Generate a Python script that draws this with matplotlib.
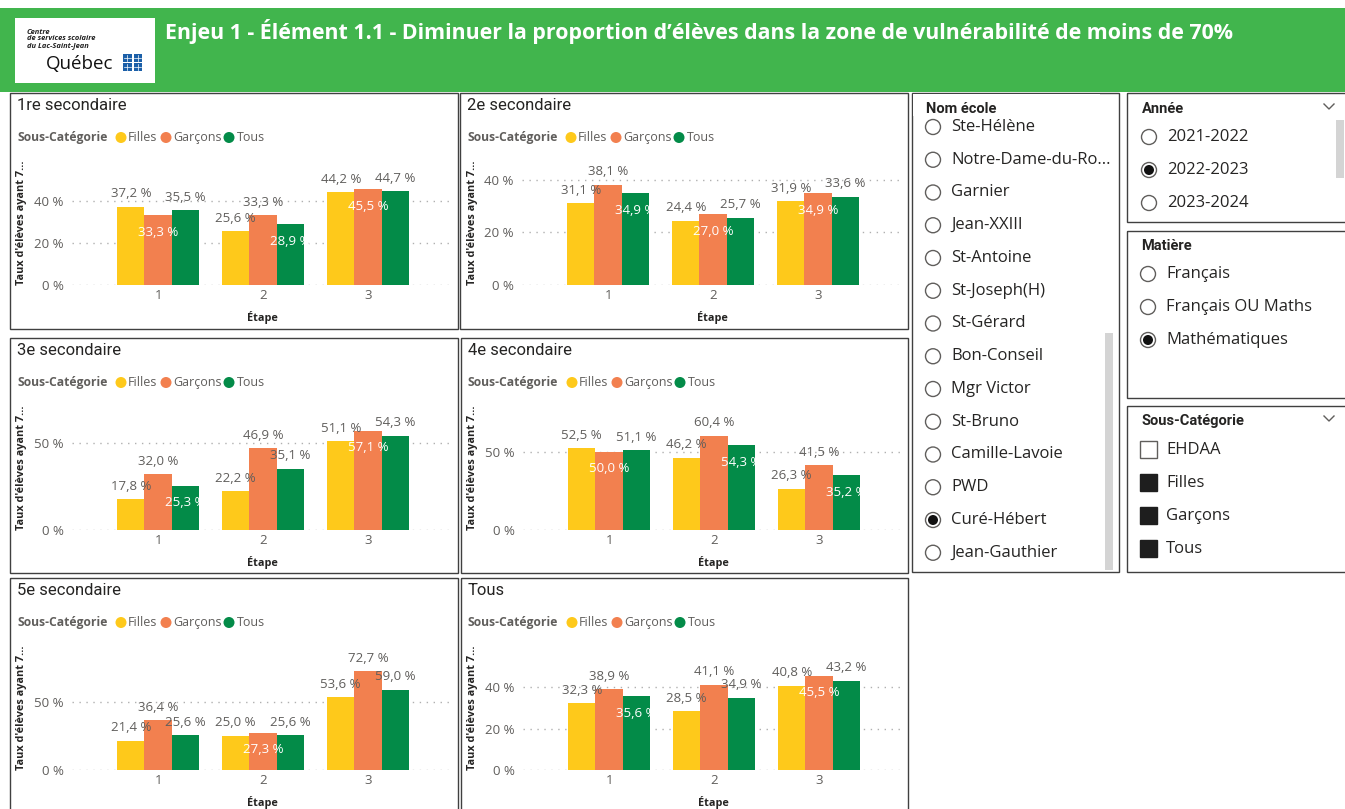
import matplotlib
matplotlib.use("Agg")
import matplotlib.pyplot as plt
from matplotlib.patches import Rectangle, Circle
from matplotlib.transforms import Affine2D

# ---------------- data ----------------
categories = [1, 2, 3]
series_names = ["Filles", "Garçons", "Tous"]

titles = ["1re secondaire", "2e secondaire", "3e secondaire",
          "4e secondaire", "5e secondaire", "Tous"]

filles_1 = [37.2, 25.6, 44.2]
garcons_1 = [33.3, 33.3, 45.5]
tous_1 = [35.5, 28.9, 44.7]

filles_2 = [31.1, 24.4, 31.9]
garcons_2 = [38.1, 27.0, 34.9]
tous_2 = [34.9, 25.7, 33.6]

filles_3 = [17.8, 22.2, 51.1]
garcons_3 = [32.0, 46.9, 57.1]
tous_3 = [25.3, 35.1, 54.3]

filles_4 = [52.5, 46.2, 26.3]
garcons_4 = [50.0, 60.4, 41.5]
tous_4 = [51.1, 54.3, 35.2]

filles_5 = [21.4, 25.0, 53.6]
garcons_5 = [36.4, 27.3, 72.7]
tous_5 = [25.6, 25.6, 59.0]

filles_t = [32.3, 28.5, 40.8]
garcons_t = [38.9, 41.1, 45.5]
tous_t = [35.6, 34.9, 43.2]

yticks_list = [[0, 20, 40], [0, 20, 40], [0, 50], [0, 50], [0, 50], [0, 20, 40]]

ecoles = ["Ste-Hélène", "Notre-Dame-du-Ro...", "Garnier", "Jean-XXIII", "St-Antoine",
          "St-Joseph(H)", "St-Gérard", "Bon-Conseil", "Mgr Victor", "St-Bruno",
          "Camille-Lavoie", "PWD", "Curé-Hébert", "Jean-Gauthier"]
ecole_sel = "Curé-Hébert"
annees = ["2021-2022", "2022-2023", "2023-2024"]
annee_sel = "2022-2023"
matieres = ["Français", "Français OU Maths", "Mathématiques"]
matiere_sel = "Mathématiques"
souscats = ["EHDAA", "Filles", "Garçons", "Tous"]
souscat_sel = ["Filles", "Garçons", "Tous"]

title_text = "Enjeu 1 - Élément 1.1 - Diminuer la proportion d’élèves dans la zone de vulnérabilité de moins de 70%"

# ---------------- style / layout ----------------
COLORS = ["#FEC91B", "#F2804F", "#038B48"]
GREEN = "#41B54D"
GREY = "#605E5C"
DARK = "#252423"
BORDER = "#404040"
SEGOE = ["Open Sans", "DejaVu Sans"]
DIN = ["Roboto", "DejaVu Sans"]

# panel boxes (left, top, right, bottom) in pixels
panel_boxes = [(10, 93, 458, 329), (460, 93, 908, 329),
               (10, 338, 458, 573), (461, 338, 908, 573),
               (10, 578, 458, 830), (461, 578, 908, 830)]
# pixels per percent for each panel
scales = [2.10, 2.625, 1.74, 1.56, 1.36, 2.07]
# labels drawn inside bars (series index, category index)
inside = [[(1, 0), (2, 1), (1, 2)],
          [(2, 0), (1, 1), (1, 2)],
          [(2, 0), (1, 2)],
          [(1, 0), (2, 1), (2, 2)],
          [(1, 1)],
          [(2, 0), (1, 2)]]

W, H = 1345, 809
fig = plt.figure(figsize=(W / 100, H / 100), dpi=100)
P = Affine2D().scale(1 / W, -1 / H).translate(0, 1) + fig.transFigure


def ftext(x, y, s, **kw):
    kw.setdefault("transform", P)
    return fig.text(x, y, s, **kw)


def frect(x0, y0, x1, y1, **kw):
    r = Rectangle((x0, y0), x1 - x0, y1 - y0, transform=P, **kw)
    fig.add_artist(r)
    return r


# header
frect(0, 8, W, 92, facecolor=GREEN, edgecolor="none")
frect(15, 18, 155, 83, facecolor="white", edgecolor="none")
for i, line in enumerate(["Centre", "de services scolaire", "du Lac-Saint-Jean"]):
    ftext(27, 32 + i * 7, line, fontsize=5.4, fontweight="bold", fontstyle="italic",
          color="#222222", va="center", family=SEGOE)
ftext(46, 64, "Québec", fontsize=13.5, color="#111111", va="center", family=SEGOE)
for ix in range(2):
    for iy in range(2):
        x0 = 123 + ix * 10.5
        y0 = 54 + iy * 9
        frect(x0, y0, x0 + 8.5, y0 + 7.5, facecolor="#1B5FA8", edgecolor="none")
        fig.add_artist(plt.Line2D([x0 + 4.25, x0 + 4.25], [y0 + 0.8, y0 + 6.7],
                                  color="white", lw=0.5, transform=P))
        fig.add_artist(plt.Line2D([x0 + 0.8, x0 + 7.7], [y0 + 3.75, y0 + 3.75],
                                  color="white", lw=0.5, transform=P))

t = ftext(165, 32, title_text, fontsize=14, fontweight="bold", color="white",
          va="center", family=SEGOE)
fig.canvas.draw()
r = fig.canvas.get_renderer()
w = t.get_window_extent(r).width
t.set_fontsize(14 * 1075 / w)

data_sets = [(filles_1, garcons_1, tous_1), (filles_2, garcons_2, tous_2),
             (filles_3, garcons_3, tous_3), (filles_4, garcons_4, tous_4),
             (filles_5, garcons_5, tous_5), (filles_t, garcons_t, tous_t)]


def fmt(v):
    return f"{v:.1f}".replace(".", ",") + " %"


BW = 0.26
for k, (title, box, scale, ins, yt, vals) in enumerate(
        zip(titles, panel_boxes, scales, inside, yticks_list, data_sets)):
    L, T, R, B = box
    frect(L, T, R, B, facecolor="none", edgecolor=BORDER, lw=1.0)
    ftext(L + 7, T + 12.5, title, fontsize=12, color=DARK, va="center", family=DIN)
    ly = T + 44.5
    ftext(L + 7, ly, "Sous-Catégorie", fontsize=8.7, fontweight="bold", color=GREY,
          va="center", family=SEGOE)
    for cx, tx, name, col in zip([L + 111, L + 156, L + 219], [L + 118, L + 163, L + 227],
                                 series_names, COLORS):
        fig.add_artist(Circle((cx, ly), 5.5, transform=P, facecolor=col, edgecolor="none"))
        ftext(tx, ly, name, fontsize=9, color=GREY, va="center", family=SEGOE)

    zero = T + 192
    ph = 128
    ax = fig.add_axes([(L + 62) / W, 1 - zero / H, 381 / W, ph / H])
    ax.set_xlim(0.18, 3.81)
    ax.set_ylim(0, ph / scale)
    for j, (vs, col) in enumerate(zip(vals, COLORS)):
        xs = [c + (j - 1) * BW for c in categories]
        ax.bar(xs, vs, width=BW, color=col, zorder=3)
        for ci, (x, v) in enumerate(zip(xs, vs)):
            if (j, ci) in ins:
                ax.annotate(fmt(v), (x, v), xytext=(0, -17), textcoords="offset pixels",
                            ha="center", va="center", color="white", fontsize=9.5,
                            family=SEGOE, zorder=5, annotation_clip=False)
            else:
                ax.annotate(fmt(v), (x, v), xytext=(0, 13), textcoords="offset pixels",
                            ha="center", va="center", color=GREY, fontsize=9.5,
                            family=SEGOE, zorder=5, annotation_clip=False)
    ax.set_yticks(yt)
    ax.set_yticklabels([f"{v} %" for v in yt], fontsize=9.5, color=GREY, family=SEGOE)
    ax.set_xticks(categories)
    ax.set_xticklabels([str(c) for c in categories], fontsize=9.5, color=GREY, family=SEGOE)
    ax.tick_params(length=0)
    ax.tick_params(axis="y", pad=6)
    ax.tick_params(axis="x", pad=3)
    ax.yaxis.grid(True, linestyle=(0, (1, 4)), color="#B0B0B0", lw=1, zorder=0)
    ax.set_axisbelow(True)
    for s in ax.spines.values():
        s.set_visible(False)
    ax.patch.set_alpha(0)
    ftext(L + 12, zero - ph / 2 + 2, "Taux d'élèves ayant 7…", rotation=90, fontsize=7.8,
          fontweight="bold", color=DARK, ha="center", va="center", family=SEGOE)
    ftext(L + 62 + 190.5, T + 225, "Étape", fontsize=7.8, fontweight="bold", color=DARK,
          ha="center", va="center", family=SEGOE)


# ---------------- slicers ----------------
def radio(cx, cy, selected):
    fig.add_artist(Circle((cx, cy), 7.5, transform=P, facecolor="white",
                          edgecolor=GREY, lw=1.0))
    if selected:
        fig.add_artist(Circle((cx, cy), 5, transform=P, facecolor="#111111",
                              edgecolor="none"))


def chevron(cx, cy):
    fig.add_artist(plt.Line2D([cx - 5, cx, cx + 5], [cy - 3, cy + 2, cy - 3],
                              color=GREY, lw=1.0, transform=P))


ITEM_FS = 12
HEAD_FS = 10.5

# Nom école
frect(912, 93, 1119, 572, facecolor="none", edgecolor=BORDER, lw=1.0)
frect(1105, 333, 1113, 570, facecolor="#D4D4D4", edgecolor="none")
for i, name in enumerate(ecoles):
    y = 127 + i * 32.75
    radio(933, y, name == ecole_sel)
    ftext(951, y, name, fontsize=ITEM_FS, color=DARK, va="center", family=SEGOE)
frect(913, 94, 1100, 116, facecolor="white", edgecolor="none")
ftext(926, 109, "Nom école", fontsize=HEAD_FS, fontweight="bold", color=DARK,
      va="center", family=DIN)

# Année
frect(1127, 93, 1360, 222, facecolor="none", edgecolor=BORDER, lw=1.0)
ftext(1142, 109, "Année", fontsize=HEAD_FS, fontweight="bold", color=DARK,
      va="center", family=DIN)
chevron(1329, 107)
frect(1336, 120, 1344, 178, facecolor="#D4D4D4", edgecolor="none")
for i, a in enumerate(annees):
    y = 137 + i * 33
    radio(1149, y, a == annee_sel)
    ftext(1167, y, a, fontsize=ITEM_FS, color=DARK, va="center", family=SEGOE)

# Matière
frect(1127, 231, 1360, 398, facecolor="none", edgecolor=BORDER, lw=1.0)
ftext(1141, 246, "Matière", fontsize=HEAD_FS, fontweight="bold", color=DARK,
      va="center", family=DIN)
for i, m in enumerate(matieres):
    y = 274 + i * 33
    radio(1148, y, m == matiere_sel)
    ftext(1166, y, m, fontsize=ITEM_FS, color=DARK, va="center", family=SEGOE)

# Sous-Catégorie
frect(1127, 406, 1360, 572, facecolor="none", edgecolor=BORDER, lw=1.0)
ftext(1141, 421, "Sous-Catégorie", fontsize=HEAD_FS, fontweight="bold", color=DARK,
      va="center", family=DIN)
chevron(1329, 419)
for i, s in enumerate(souscats):
    y = 450 + i * 33
    sel = s in souscat_sel
    frect(1140, y - 8.5, 1157, y + 8.5, facecolor="#1E1E1E" if sel else "white",
          edgecolor=GREY if not sel else "#1E1E1E", lw=1.0)
    ftext(1166, y, s, fontsize=ITEM_FS, color=DARK, va="center", family=SEGOE)

fig.savefig("out.png", dpi=100)
